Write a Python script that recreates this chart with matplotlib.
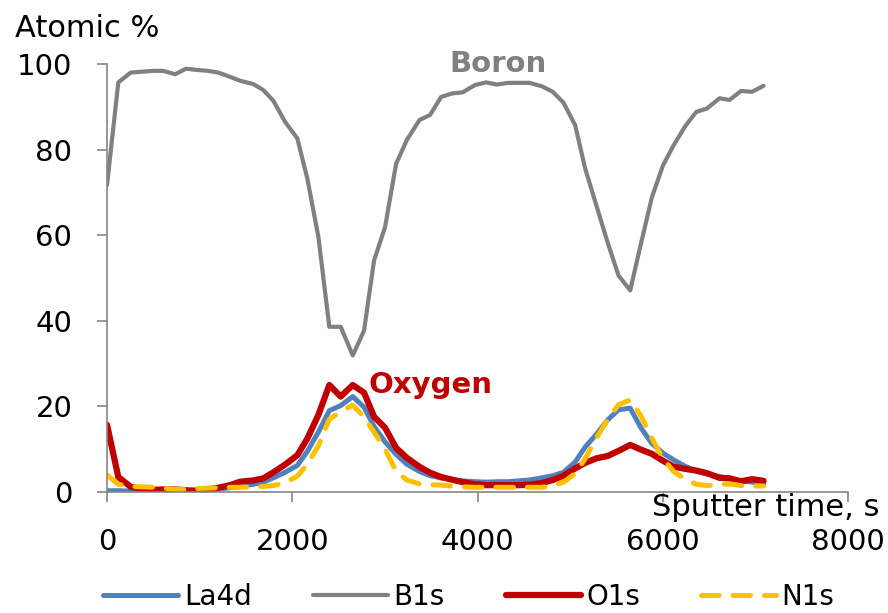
import matplotlib
matplotlib.use('Agg')
from matplotlib import pyplot as plt

# sputter time, s
t = [0, 122, 256, 380, 500, 608, 734, 853, 975, 1090,
     1202, 1328, 1436, 1580, 1688, 1796, 1922, 2055, 2163, 2282,
     2400, 2523, 2653, 2775, 2883, 3002, 3121, 3236, 3373, 3488,
     3607, 3722, 3841, 3974, 4093, 4208, 4333, 4441, 4560, 4694,
     4813, 4927, 5054, 5162, 5288, 5403, 5522, 5648, 5764, 5883,
     6002, 6117, 6243, 6361, 6477, 6613, 6721, 6844, 6963, 7088]

la4d = [0.3, 0.3, 0.2, 0.1, 0.0, 0.0, 0.0, 0.1, 0.2, 0.4,
        0.7, 1.0, 1.4, 1.8, 2.3, 3.3, 4.6, 6.2, 9.5, 14.0,
        19.0, 20.2, 22.3, 19.8, 15.3, 11.7, 8.8, 6.5, 4.8, 3.8,
        3.3, 2.9, 2.6, 2.4, 2.3, 2.4, 2.4, 2.6, 2.8, 3.3,
        3.8, 4.6, 7.0, 10.5, 13.6, 16.8, 19.2, 19.6, 15.0, 11.3,
        9.1, 7.5, 6.0, 4.9, 4.2, 3.6, 3.1, 2.6, 2.3, 1.9]

b1s = [71.7, 95.7, 98.0, 98.2, 98.4, 98.4, 97.6, 98.9, 98.6, 98.4,
       98.0, 97.0, 96.1, 95.3, 93.9, 91.4, 86.5, 82.6, 73.2, 59.6,
       38.6, 38.6, 31.9, 37.7, 54.1, 61.9, 76.7, 82.2, 86.9, 88.1,
       92.3, 93.1, 93.4, 95.1, 95.7, 95.2, 95.6, 95.6, 95.6, 94.8,
       93.5, 91.0, 85.7, 75.6, 66.6, 58.4, 50.6, 47.1, 58.0, 68.9,
       76.3, 81.0, 85.5, 88.8, 89.6, 92.0, 91.6, 93.7, 93.5, 94.9]

o1s = [15.7, 3.5, 1.2, 0.8, 0.5, 0.6, 0.6, 0.4, 0.3, 0.6,
       1.0, 1.6, 2.4, 2.7, 3.2, 4.6, 6.4, 8.6, 12.5, 18.0,
       25.0, 22.3, 25.0, 23.2, 17.6, 15.0, 10.3, 8.0, 5.9, 4.5,
       3.5, 2.9, 2.3, 1.8, 1.6, 1.6, 1.6, 1.6, 1.7, 2.1,
       2.8, 3.8, 5.5, 6.8, 7.9, 8.4, 9.6, 11.0, 9.9, 8.9,
       7.3, 5.9, 5.4, 5.0, 4.4, 3.3, 3.2, 2.5, 3.0, 2.6]

n1s = [4.0, 1.8, 1.3, 1.2, 1.1, 0.9, 0.6, 0.6, 0.8, 0.9,
       1.0, 1.1, 1.1, 1.2, 1.3, 1.5, 2.2, 3.7, 6.5, 10.8,
       17.0, 18.8, 20.3, 17.5, 14.0, 10.0, 4.8, 2.8, 1.9, 1.7,
       1.6, 1.4, 1.2, 1.1, 1.1, 1.1, 1.1, 1.1, 1.1, 1.1,
       1.5, 2.3, 4.3, 7.8, 12.8, 16.8, 20.4, 21.5, 17.8, 12.5,
       7.8, 4.8, 3.0, 1.8, 1.5, 1.7, 1.9, 1.5, 1.4, 1.4]

xticks = [0, 2000, 4000, 6000, 8000]
yticks = [0, 20, 40, 60, 80, 100]

plt.rcParams['font.family'] = 'DejaVu Sans'
fig = plt.figure(figsize=(8.88, 6.13), dpi=100)
ax = fig.add_axes([0.1205, 0.1974, 0.8345, 0.6982])

ax.plot(t, la4d, color='#4F81BD', lw=3.6, label='La4d', solid_capstyle='round')
ax.plot(t, b1s, color='#808080', lw=3.0, label='B1s', solid_capstyle='round')
ax.plot(t, o1s, color='#C00000', lw=4.5, label='O1s', solid_capstyle='round')
ax.plot(t, n1s, color='#FFC000', lw=3.6, ls=(0, (3.5, 2.8)), label='N1s',
        dash_capstyle='round')

ax.set_xlim(0, 8000)
ax.set_ylim(0, 100)
ax.set_xticks(xticks)
ax.set_yticks(yticks)
for s in ['top', 'right']:
    ax.spines[s].set_visible(False)
for s in ['left', 'bottom']:
    ax.spines[s].set_color('#868686')
    ax.spines[s].set_linewidth(1.2)
ax.tick_params(axis='both', direction='out', length=7, width=1.2,
               color='#868686', labelsize=21)
ax.tick_params(axis='x', pad=19)
ax.tick_params(axis='y', pad=18)

ax.text(3700, 100, 'Boron', color='#808080', fontsize=21, fontweight='bold',
        ha='left', va='center')
ax.text(2820, 25, 'Oxygen', color='#C00000', fontsize=21, fontweight='bold',
        ha='left', va='center')

fig.text(0.017, 0.954, 'Atomic %', fontsize=22, ha='left', va='center')
fig.text(0.99, 0.172, 'Sputter time, s', fontsize=22, ha='right', va='center')

fig.legend(loc='center', bbox_to_anchor=(0.528, 0.026), ncol=4, frameon=False,
           fontsize=20, handlelength=2.7, columnspacing=2.2, handletextpad=0.2)

fig.savefig('out.png', dpi=100)
